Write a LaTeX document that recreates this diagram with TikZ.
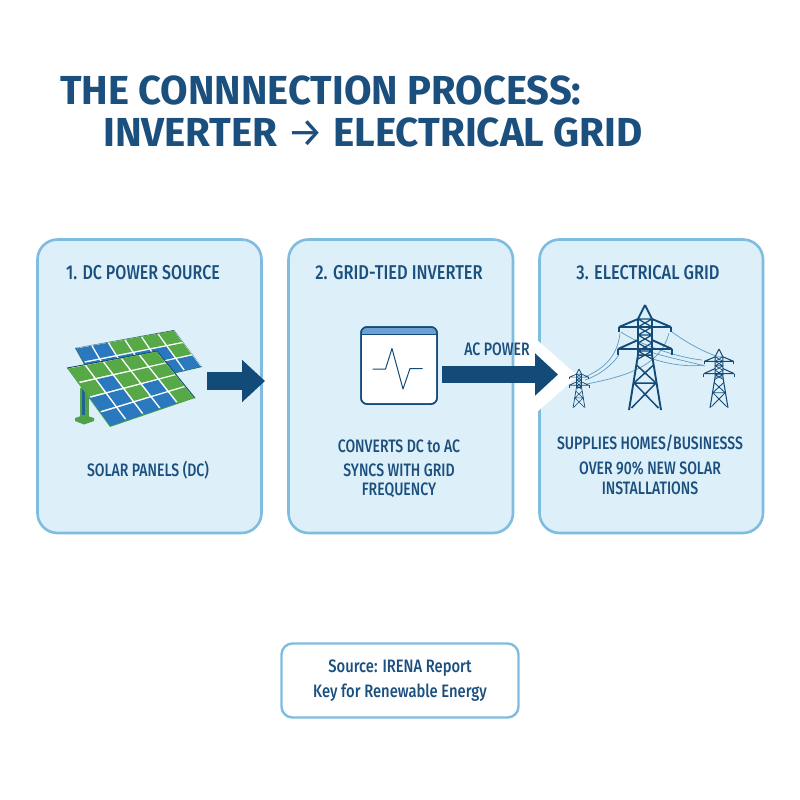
\documentclass[tikz,border=0pt]{standalone}
\usepackage{fontspec}
\usepackage{graphicx}
\setmainfont{Fira Sans}
\newfontfamily\labelface{Fira Sans Medium}
\usetikzlibrary{arrows.meta,calc}
\definecolor{navy}{HTML}{1B4F7E}
\definecolor{steel}{HTML}{134B78}
\definecolor{panelfill}{HTML}{DDEFF9}
\definecolor{panelline}{HTML}{7FBDE0}
\definecolor{cellblue}{HTML}{2A78BE}
\definecolor{cellgreen}{HTML}{57A947}
\definecolor{framegreen}{HTML}{4FA24A}
\definecolor{wire}{HTML}{5F9CC0}
\newcommand{\slim}[2]{\scalebox{#1}[1]{#2}}
\tikzset{
  x=1pt,y=-1pt,
  card/.style={draw=panelline,fill=panelfill,line width=2.6pt,rounded corners=20pt},
  notecard/.style={draw=panelline,fill=white,line width=2.4pt,rounded corners=11pt},
  headline/.style={font=\fontsize{40.5}{40.5}\selectfont\bfseries,text=navy,anchor=west,inner sep=0pt},
  cardtitle/.style={font=\labelface\fontsize{20}{20}\selectfont,text=navy,inner sep=0pt},
  cardtext/.style={font=\labelface\fontsize{18}{18}\selectfont,text=navy,inner sep=0pt},
  flowarrow/.style={draw=steel,line width=18pt,-{Triangle[length=23pt,width=41pt]}},
  lattice/.style={draw=steel,line width=.8pt,line join=round},
  mast/.style={draw=steel,line width=1.7pt,line join=round},
  cable/.style={draw=wire,line width=.7pt},
}
% Pylon drawn from its apex; #1,#2 place the apex, #3 scales a 105-unit tall mast
\newcommand{\pylon}[3]{%
  \begin{scope}[shift={(#1,#2)},scale=#3]
    \draw[mast,line width=#3*1.9pt] (0,0)--(-7,14)--(-7,50)--(-16,105) (0,0)--(7,14)--(7,50)--(16,105);
    \draw[mast,line width=#3*1.9pt] (-26,22)--(26,22) (-27,44)--(27,44)
      (-26,22)--(-7,14) (26,22)--(7,14) (-27,44)--(-7,35) (27,44)--(7,35);
    \draw[mast,line width=#3*1.9pt] (-26,22)--(-26,27) (26,22)--(26,27) (-27,44)--(-27,50) (27,44)--(27,50);
    \draw[lattice,line width=#3*1.2pt] (-7,14)--(7,22)--(-7,30)--(7,38)--(-7,46)--(7,54)
      (7,14)--(-7,22)--(7,30)--(-7,38)--(7,46)--(-7,54)
      (-7,14)--(7,14) (-7,30)--(7,30) (-7,46)--(7,46);
    \draw[mast,line width=#3*1.5pt] (-7,50)--(7,50) (-8.5,60)--(11,78)--(-13.5,103)
      (8.5,60)--(-11,78)--(13.5,103) (-11,78)--(11,78);
  \end{scope}}
% One solar panel: four corners, column and row counts, then a cell colour list
\newcommand{\cellgrid}[7]{%
  \foreach \rowcells [count=\r from 0] in {#7} {
    \foreach \tint [count=\c from 0] in \rowcells {
      \fill[\tint]
        ($($(#1)!{(\c+.05)/#5}!(#2)$)!{(\r+.05)/#6}!($(#4)!{(\c+.05)/#5}!(#3)$)$) --
        ($($(#1)!{(\c+.95)/#5}!(#2)$)!{(\r+.05)/#6}!($(#4)!{(\c+.95)/#5}!(#3)$)$) --
        ($($(#1)!{(\c+.95)/#5}!(#2)$)!{(\r+.95)/#6}!($(#4)!{(\c+.95)/#5}!(#3)$)$) --
        ($($(#1)!{(\c+.05)/#5}!(#2)$)!{(\r+.95)/#6}!($(#4)!{(\c+.05)/#5}!(#3)$)$) -- cycle;
    }
  }}
\begin{document}
\begin{tikzpicture}
\useasboundingbox (0,0) rectangle (800,800);
\fill[white] (0,0) rectangle (800,800);

% Heading
\node[headline] (head1) at (60,90) {\slim{.985}{THE CONNNECTION PROCESS:}};
\node[headline] (head2) at (103,132) {\slim{.995}{INVERTER {\mdseries →} ELECTRICAL GRID}};

% Three process cards
\draw[card] (37.5,239.5) rectangle (261.5,533);
\draw[card] (288.5,239.5) rectangle (513,533);
\draw[card] (539.5,239.5) rectangle (763,533);

\node[cardtitle] (t1) at (143,272.5) {\slim{.8}{1. DC POWER SOURCE}};
\node[cardtitle] (t2) at (399,272.5) {\slim{.82}{2. GRID-TIED INVERTER}};
\node[cardtitle] (t3) at (648,272.5) {\slim{.82}{3. ELECTRICAL GRID}};

% Solar array: rear panel
\coordinate (ba) at (75,348); \coordinate (bb) at (174,330);
\coordinate (bc) at (202,367); \coordinate (bd) at (99,391);
\fill[steel!60!framegreen] (ba)--(bb)--(bc)--(bd)--cycle;
\fill[white] ($(ba)+(2,0)$)--($(bb)+(0,1)$)--($(bc)+(-1,-1)$)--($(bd)+(1,-1)$)--cycle;
\cellgrid{ba}{bb}{bc}{bd}{6}{3}{{cellblue,cellblue,cellgreen,cellgreen,cellgreen,cellgreen},
  {cellblue,cellblue,cellblue,cellblue,cellblue,cellgreen},
  {cellblue,cellblue,cellblue,cellblue,cellblue,cellblue}}
% Solar array: support post
\fill[framegreen] (80,388) rectangle (89,417);
\fill[cellblue!80!black] (82,388) rectangle (85,415);
\fill[framegreen] (75,418)--(84,415)--(94,418)--(94,421)--(84,424.5)--(75,421)--cycle;
% Solar array: front panel
\coordinate (fa) at (67,368); \coordinate (fb) at (157,351);
\coordinate (fc) at (195,398); \coordinate (fd) at (110,427);
\fill[framegreen] (fa)--(fb)--(fc)--(fd)--cycle;
\fill[white] ($(fa)+(2,0)$)--($(fb)+(0,1)$)--($(fc)+(-2,-1)$)--($(fd)+(0,-3)$)--cycle;
\draw[steel,line width=.8pt] (fa)--(fb)--(fc);
\cellgrid{fa}{fb}{fc}{fd}{5}{4}{{cellgreen,cellgreen,cellgreen,cellgreen,cellgreen},
  {cellgreen,cellblue,cellgreen,cellgreen,cellgreen},
  {cellblue,cellblue,cellgreen,cellblue,cellgreen},
  {cellblue,cellblue,cellblue,cellblue,cellgreen}}

% Arrow into the inverter card
\coordinate (dcfrom) at (207,381); \coordinate (dcto) at (265,381);
\draw[flowarrow] (dcfrom) -- (dcto);

\node[cardtext] (l1) at (148,470) {\slim{.78}{SOLAR PANELS (DC)}};

% Inverter icon
\draw[draw=steel,fill=white,line width=1.5pt,rounded corners=6pt] (361,327) rectangle (437,404);
\begin{scope}
  \clip[rounded corners=6pt] (361,327) rectangle (437,404);
  \fill[cellblue!70!white] (361,327) rectangle (437,334.5);
\end{scope}
\draw[steel,line width=1.3pt] (361,334.5)--(437,334.5);
\draw[draw=steel,line width=1.5pt,rounded corners=6pt] (361,327) rectangle (437,404);
\draw[steel,line width=1pt,line join=round] (372.5,369)--(385.5,369)--(392,348.5)--(403,389)--(410,368.5)--(422.5,368.5);

% White notch that the output arrow cuts into the grid card
\fill[white] (537,340)--(578,376)--(537,412)--cycle;
\coordinate (acfrom) at (442,374.5); \coordinate (acto) at (558,374.5);
\draw[flowarrow,line width=17pt] (acfrom) -- (acto);
\node[cardtext] (aclabel) at (497,349) {\slim{.78}{AC POWER}};

\node[cardtext] (l2a) at (399,446) {\slim{.78}{CONVERTS DC to AC}};
\node[cardtext] (l2b) at (399,470) {\slim{.78}{SYNCS WITH GRID}};
\node[cardtext] (l2c) at (399,490) {\slim{.78}{FREQUENCY}};

% Transmission cables
\draw[cable] (585,377) .. controls (600,370) and (617,360) .. (620,333);
\draw[cable] (585,380) .. controls (600,375) and (612,365) .. (619,355);
\draw[cable] (587,384) .. controls (615,378) and (660,370) .. (669,333);
\draw[cable] (621,332) .. controls (640,345) and (680,358) .. (702,360);
\draw[cable] (672,332) .. controls (690,345) and (705,352) .. (716,356);
\draw[cable] (650,352) .. controls (670,358) and (690,362) .. (705,366);
\draw[cable] (650,358) .. controls (670,365) and (690,367) .. (703,365);

\pylon{645}{305}{1}
\pylon{579}{369}{.37}
\pylon{719}{349}{.56}

\node[cardtext] (l3a) at (650,443) {\slim{.78}{SUPPLIES HOMES/BUSINESSS}};
\node[cardtext] (l3b) at (650,468) {\slim{.78}{OVER 90\% NEW SOLAR}};
\node[cardtext] (l3c) at (650,488) {\slim{.78}{INSTALLATIONS}};

% Source note
\draw[notecard] (281.5,643.5) rectangle (518.5,717.5);
\node[cardtext] (s1) at (400,668) {\slim{.82}{Source: IRENA Report}};
\node[cardtext] (s2) at (400,693) {\slim{.82}{Key for Renewable Energy}};
\end{tikzpicture}
\end{document}
